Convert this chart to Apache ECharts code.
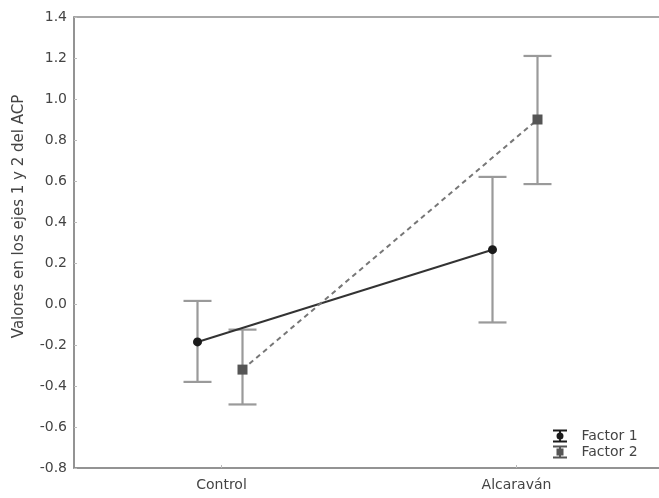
<!DOCTYPE html>
<html>
<head>
<meta charset="utf-8">
<script src="https://cdn.jsdelivr.net/npm/echarts@6/dist/echarts.min.js"></script>
<style>html,body{margin:0;padding:0;background:#fff;}#c{width:659px;height:498px;}</style>
</head>
<body>
<div id="c"></div>
<script>
const categories = ['Control', 'Alcaraván'];
const factor1Mean = [-0.185, 0.265];
const factor1Low = [-0.38, -0.09];
const factor1High = [0.015, 0.62];
const factor2Mean = [-0.32, 0.90];
const factor2Low = [-0.49, 0.585];
const factor2High = [-0.125, 1.21];
const yMin = -0.8, yMax = 1.4, yStep = 0.2;

const FONT = 'DejaVu Sans';
const chart = echarts.init(document.getElementById('c'), null, {renderer: 'canvas'});

function build(mean, low, high) {
  return categories.map((c, i) => [i, mean[i], low[i], high[i]]);
}

function makeRender(opts) {
  return function (params, api) {
    const i = params.dataIndex;
    const p = api.coord([i, api.value(1)]);
    const lo = api.coord([i, api.value(2)]);
    const hi = api.coord([i, api.value(3)]);
    const x = p[0] + opts.dx;
    const cap = 14;
    const children = [];
    const barStyle = {stroke: '#9a9a9a', lineWidth: 2.2};
    children.push({type: 'line', z2: 1, shape: {x1: x, y1: hi[1], x2: x, y2: lo[1]}, style: barStyle});
    children.push({type: 'line', z2: 1, shape: {x1: x - cap, y1: hi[1], x2: x + cap, y2: hi[1]}, style: barStyle});
    children.push({type: 'line', z2: 1, shape: {x1: x - cap, y1: lo[1], x2: x + cap, y2: lo[1]}, style: barStyle});
    if (i > 0) {
      const prev = api.coord([i - 1, opts.mean[i - 1]]);
      children.push({type: 'line', z2: 2, shape: {x1: prev[0] + opts.dx, y1: prev[1], x2: x, y2: p[1]},
        style: {stroke: opts.lineColor, lineWidth: 2, lineDash: opts.dash}});
    }
    if (opts.marker === 'circle') {
      children.push({type: 'circle', z2: 3, shape: {cx: x, cy: p[1], r: 4.5}, style: {fill: '#1a1a1a'}});
    } else {
      children.push({type: 'rect', z2: 3, shape: {x: x - 5, y: p[1] - 5, width: 10, height: 10}, style: {fill: '#555'}});
    }
    return {type: 'group', children: children};
  };
}

const iconCircle = 'path://M0,0h14v2h-14z M6,2h2v9h-2z M0,11h14v2h-14z M10.5,6.5a3.5,3.5 0 1,1 -7,0a3.5,3.5 0 1,1 7,0z';
const iconSquare = 'path://M0,0h14v2h-14z M6,2h2v9h-2z M0,11h14v2h-14z M3.5,3h7v7h-7z';

chart.setOption({
  animation: false,
  backgroundColor: '#fff',
  grid: {left: 74, top: 17, width: 590, bottom: 30, outerBoundsMode: 'none', containLabel: false,
    show: true, borderColor: '#8c8c8c', borderWidth: 1.5},
  legend: {
    orient: 'vertical', left: 553, top: 429, padding: 0, itemGap: 2, itemWidth: 15, itemHeight: 13,
    textStyle: {fontFamily: FONT, fontSize: 14, color: '#444', padding: [0, 0, 0, 9]},
    data: [{name: 'Factor 1', icon: iconCircle}, {name: 'Factor 2', icon: iconSquare}]
  },
  xAxis: {
    type: 'category', data: categories, boundaryGap: true,
    axisLine: {show: true, onZero: false, lineStyle: {color: '#8c8c8c', width: 1.5}},
    axisTick: {show: true, inside: true, alignWithLabel: true, length: 3, lineStyle: {color: '#bbb'}},
    axisLabel: {fontFamily: FONT, fontSize: 14, color: '#444', margin: 10},
    splitLine: {show: false}
  },
  yAxis: {
    type: 'value', min: yMin, max: yMax, interval: yStep,
    name: 'Valores en los ejes 1 y 2 del ACP', nameLocation: 'middle', nameGap: 47,
    nameTextStyle: {fontFamily: FONT, fontSize: 15, color: '#444', padding: [0, 0, 0, 52]},
    axisLine: {show: true, lineStyle: {color: '#8c8c8c', width: 1.5}},
    axisTick: {show: true, inside: true, length: 3, lineStyle: {color: '#bbb'}},
    axisLabel: {fontFamily: FONT, fontSize: 14, color: '#444', margin: 7,
      formatter: v => v.toFixed(1)},
    splitLine: {show: false}
  },
  series: [
    {name: 'Factor 1', type: 'custom', itemStyle: {color: '#1a1a1a'},
      data: build(factor1Mean, factor1Low, factor1High),
      encode: {x: 0, y: [1, 2, 3]},
      renderItem: makeRender({dx: -24, mean: factor1Mean, lineColor: '#333', dash: null, marker: 'circle'})},
    {name: 'Factor 2', type: 'custom', itemStyle: {color: '#555'},
      data: build(factor2Mean, factor2Low, factor2High),
      encode: {x: 0, y: [1, 2, 3]},
      renderItem: makeRender({dx: 21, mean: factor2Mean, lineColor: '#777', dash: [5, 4], marker: 'square'})}
  ]
});
</script>
</body>
</html>
